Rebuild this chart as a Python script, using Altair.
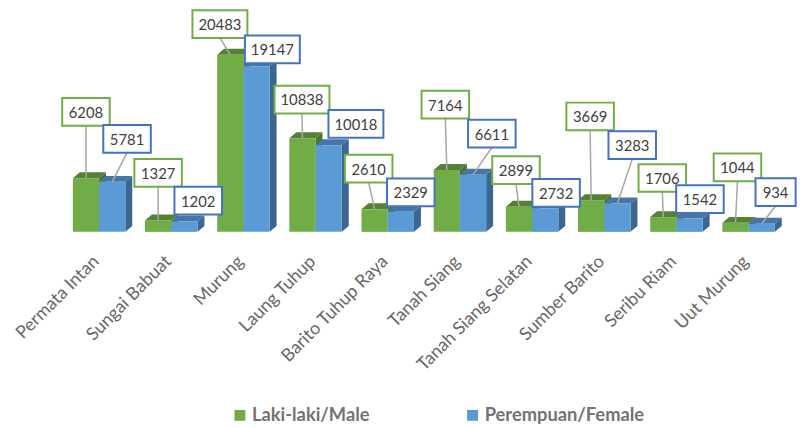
import altair as alt
import pandas as pd

# ---------------- data ----------------
categories = ["Permata Intan", "Sungai Babuat", "Murung", "Laung Tuhup",
              "Barito Tuhup Raya", "Tanah Siang", "Tanah Siang Selatan",
              "Sumber Barito", "Seribu Riam", "Uut Murung"]
male = [6208, 1327, 20483, 10838, 2610, 7164, 2899, 3669, 1706, 1044]
female = [5781, 1202, 19147, 10018, 2329, 6611, 2732, 3283, 1542, 934]
series_names = ["Laki-laki/Male", "Perempuan/Female"]

# ---------------- layout / style ----------------
PLOT_W, PLOT_H = 793, 214
GROUP_PX = 72.9                      # pixels per category
X_MIN = -87 / GROUP_PX
X_MAX = X_MIN + PLOT_W / GROUP_PX
Y_MAX = 24500
PPY = PLOT_H / Y_MAX                 # pixels per data unit (y)
BAR_PX, DEPTH_X, DEPTH_Y = 26.5, 7, 6

# callout offsets (pixels, relative to bar top centre)
label_dx = {0: [0, 0, -10.5, -0.5, -6, -1.5, -3, -1, -1, 2],
            1: [15, 14, 16, 27.5, 10, 19, 11, 15, 10.5, 14]}
label_dy = {0: [-67, -48, -31, -39, -41, -66, -37, -84.5, -39.5, -56],
            1: [-43.5, -21, -17, -21.5, -19.5, -41.5, -15.5, -59, -19.5, -32]}

front_col = ["#70AD47", "#5B9BD5"]
top_col = ["#538135", "#4676A8"]
side_col = ["#4A7530", "#3A6690"]
box_col = ["#70AD47", "#4472C4"]


def ux(px):
    return px / GROUP_PX


def uy(px):
    return px / PPY


fronts, faces, boxes, leaders = [], [], [], []
for s, vals in enumerate([male, female]):
    faces.append([])
    fronts.append([])
    for i, v in enumerate(vals):
        x0 = i - ux(BAR_PX) if s == 0 else i
        x1 = x0 + ux(BAR_PX)
        d, h = ux(DEPTH_X), uy(DEPTH_Y)
        fronts[s].append(dict(series=series_names[s], x0=x0, x1=x1, y0=0, y1=v))
        fid = f"{s}-{i}"
        # top face (parallelogram) and side face
        for (xx, lo, hi) in [(x0, v, v), (x0 + d, v, v + h), (x1, v, v + h), (x1 + d, v + h, v + h)]:
            faces[s].append(dict(face="t" + fid, px=xx, lo=lo, hi=hi, col=top_col[s]))
        for (xx, lo, hi) in [(x1, 0, v), (x1 + d, h, v + h)]:
            faces[s].append(dict(face="s" + fid, px=xx, lo=lo, hi=hi, col=side_col[s]))
        # callout box
        cy_px = -label_dy[s][i]
        bw = 7.5 * len(str(v)) + 18
        bh = 28
        bc = (x0 + x1) / 2
        cx = bc + ux(label_dx[s][i])
        cy = v + uy(cy_px)
        boxes.append(dict(cx=cx, cy=cy, bx0=cx - ux(bw / 2), bx1=cx + ux(bw / 2),
                          by0=cy - uy(bh / 2), by1=cy + uy(bh / 2), label=str(v),
                          stroke=box_col[s]))
        if cy_px - bh / 2 > 10:
            leaders.append(dict(x=cx, y=cy - uy(bh / 2), x2=bc, y2=v))

xs = alt.Scale(domain=[X_MIN, X_MAX], nice=False, zero=False)
ys = alt.Scale(domain=[0, Y_MAX], nice=False, zero=False)

label_arr = "[" + ",".join("'" + c + "'" for c in categories) + "]"
x_axis = alt.Axis(values=list(range(len(categories))), labelExpr=f"{label_arr}[datum.value]",
                  labelAngle=-45, labelAlign="right", labelBaseline="middle",
                  labelPadding=27, labelOffset=-3, labelFont="Lato", labelFontSize=18,
                  labelColor="#666666", domain=False, ticks=False, grid=False,
                  title=None, labelOverlap=False, labelBound=False, labelFlush=False)

color_scale = alt.Scale(domain=series_names, range=front_col)
legend = alt.Legend(title=None, orient="none", direction="horizontal", legendX=220,
                    legendY=390, symbolType="square", symbolSize=121,
                    symbolStrokeWidth=0, labelFont="Lato", labelFontWeight="bold",
                    labelFontSize=18.5, labelColor="#737373", labelOffset=3,
                    labelLimit=400, columnPadding=94, padding=0)


def X(field):
    return alt.X(field, scale=xs, axis=x_axis)


def Y(field):
    return alt.Y(field, scale=ys, axis=None, stack=None)


def face_layer(rows):
    return alt.Chart(pd.DataFrame(rows)).mark_area().encode(
        x=X("px:Q"),
        y=Y("lo:Q"),
        y2=alt.Y2("hi:Q"),
        detail="face:N",
        fill=alt.Fill("col:N", scale=None, legend=None),
    )


def front_layer(rows):
    return alt.Chart(pd.DataFrame(rows)).mark_rect().encode(
        x=X("x0:Q"),
        x2="x1:Q",
        y=Y("y0:Q"),
        y2="y1:Q",
        color=alt.Color("series:N", scale=color_scale, legend=legend),
    )


leader_layer = alt.Chart(pd.DataFrame(leaders)).mark_rule(color="#A6A6A6", strokeWidth=1.5).encode(
    x=X("x:Q"), y=Y("y:Q"), x2="x2:Q", y2="y2:Q")

box_df = pd.DataFrame(boxes)
box_layer = alt.Chart(box_df).mark_rect(fill="white", strokeWidth=2).encode(
    x=X("bx0:Q"), x2="bx1:Q", y=Y("by0:Q"), y2="by1:Q",
    stroke=alt.Stroke("stroke:N", scale=None))
text_layer = alt.Chart(box_df).mark_text(font="Lato", fontSize=15, color="#404040",
                                         align="center", baseline="middle", dy=1).encode(
    x=X("cx:Q"), y=Y("cy:Q"), text="label:N")

chart = alt.layer(
    face_layer(faces[0]), front_layer(fronts[0]),
    face_layer(faces[1]), front_layer(fronts[1]),
    leader_layer, box_layer, text_layer,
).properties(
    width=PLOT_W, height=PLOT_H,
    autosize=alt.AutoSizeParams(type="none"),
    padding={"left": 5, "top": 10, "right": 0, "bottom": 196},
    background="white",
).configure_view(stroke=None)

chart.save("out.html", embed_options={"renderer": "svg", "actions": False})
